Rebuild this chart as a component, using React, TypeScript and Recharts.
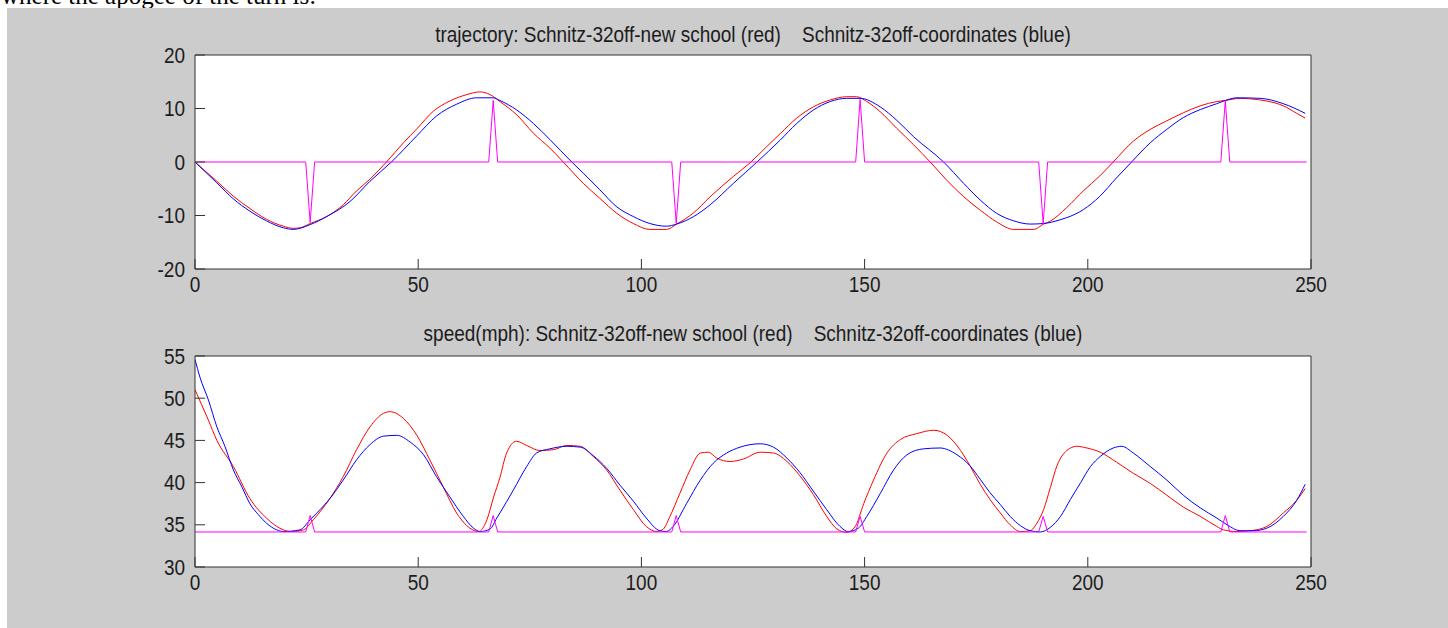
import { LineChart, Line, XAxis, YAxis, CartesianGrid } from 'recharts'

const FONT = '"Liberation Sans", Arial, Helvetica, sans-serif'
const STRETCH = 1.12
const INK = '#1c1c1c'

const xTicks = [0, 50, 100, 150, 200, 250]
const trajTicks = [-20, -10, 0, 10, 20]
const speedTicks = [30, 35, 40, 45, 50, 55]

// trajectory, new school (red)
const trajRedX = [0, 4.9, 8.6, 12.3, 16, 19.8, 22, 23.5, 25.8, 29.5, 33.2, 36.2, 39.2, 42.9, 46.7, 49.7, 53.4, 57.1, 60.9, 63.8, 66.1, 68.3, 72.1, 75.8, 79.5, 82.5, 87, 90.7, 94.5, 98.2, 101.9, 105.6, 107.9, 111.7, 115.4, 120.6, 124.4, 128.1, 131.1, 134.8, 138.5, 142.3, 146, 148.2, 150.5, 153.5, 157.2, 161, 164.7, 168.4, 172.2, 175.9, 179.6, 183.4, 187.9, 190.1, 191.5, 195.3, 199, 202.7, 205.7, 210.2, 214, 217.7, 221.4, 225.2, 228.9, 230.8, 234.1, 236.4, 240.1, 243.8, 246.8, 248.7]
const trajRedY = [0, -3.6, -6.4, -8.7, -10.7, -12, -12.4, -12.3, -11.5, -10.2, -8, -5.4, -3.2, 0, 3.6, 6.2, 9.5, 11.4, 12.6, 13.1, 12.6, 11.3, 8.8, 5.4, 2.6, 0, -4, -6.8, -9.6, -11.5, -12.6, -12.6, -11.6, -9.5, -6.5, -2.7, -0.1, 2.9, 5.3, 8.2, 10.3, 11.6, 12.2, 12.2, 11.3, 9.4, 6.3, 3.2, 0, -3.4, -6.5, -9, -11.2, -12.6, -12.6, -11.6, -11.1, -8.5, -5.4, -2.6, 0, 3.9, 6.1, 7.7, 9.2, 10.5, 11.3, 11.5, 11.9, 11.8, 11.4, 10.5, 9.1, 8.2]

// trajectory, coordinates (blue)
const trajBlueX = [0, 4.9, 8.6, 12.3, 16, 19.8, 22, 25.8, 29.5, 34.7, 39.2, 44, 49.7, 54.1, 58.6, 63.1, 66.8, 68.3, 72.1, 75.8, 79.5, 84.4, 87, 90.7, 94.5, 98.2, 101.9, 105.6, 107.9, 111.7, 115.4, 120.6, 125.9, 131.1, 134.8, 138.5, 142.3, 146, 149, 153.5, 157.2, 161, 167.7, 172.2, 175.9, 179.6, 183.4, 187.1, 190.1, 193.8, 195.3, 199, 202.7, 206.4, 209.8, 214, 217.7, 221.4, 225.2, 228.9, 230.8, 233.4, 238.6, 243.8, 248.7]
const trajBlueY = [0, -3.9, -6.9, -9.2, -11, -12.3, -12.6, -11.7, -10.2, -7.4, -3.6, 0, 4.9, 8.6, 10.8, 12, 12, 11.5, 9.7, 7.2, 4.2, 0, -2.1, -5.2, -8.4, -10.2, -11.5, -12, -11.6, -10.2, -8, -4, 0, 4.1, 7.2, 9.7, 11.3, 11.9, 11.9, 10.3, 7.8, 4.7, 0, -4, -7.1, -9.6, -11, -11.6, -11.5, -10.8, -10.4, -8.9, -6.4, -3, 0, 3.6, 6.1, 8.3, 9.8, 10.9, 11.5, 12, 11.9, 10.9, 9.1]

// apex markers on the trajectory plot (magenta)
const trajMarkX = [0, 24.8, 25.8, 26.8, 65.8, 66.8, 67.8, 106.8, 107.8, 108.8, 148, 149, 150, 189, 190, 191, 229.8, 230.8, 231.8, 249]
const trajMarkY = [0, 0, -11.3, 0, 0, 11.5, 0, 0, -11.5, 0, 0, 11.7, 0, 0, -11.5, 0, 0, 11.5, 0, 0]

// speed, new school (red)
const speedRedX = [0, 3, 4.9, 8.6, 12.3, 16, 19.8, 21.7, 24.3, 26.5, 30.2, 33.2, 36.2, 39.2, 42.2, 43.7, 46.7, 49.7, 52.6, 55.6, 58.6, 61.6, 63.5, 65.4, 66.9, 68.3, 69.8, 72, 74.3, 77.3, 80.3, 83.3, 86.3, 89.2, 92.2, 95.2, 98.2, 101.1, 103.4, 104.9, 106.4, 108.6, 110.9, 113.2, 115, 116.9, 119.9, 122.9, 126.6, 129.6, 132.6, 135.5, 138.5, 141.5, 143.8, 146, 147.9, 149.8, 152, 155, 158, 161.7, 165.5, 168.5, 171.5, 173.6, 175.9, 178.1, 180.4, 182.6, 184.9, 187.1, 188.6, 190.1, 191.6, 193.1, 195.3, 197.5, 199.8, 202.8, 206.5, 210.2, 214, 217.7, 221.4, 225.2, 228.9, 230.4, 233.4, 236.4, 240.1, 243.8, 246.8, 248.7]
const speedRedY = [51, 47.4, 45, 41.9, 38.1, 35.8, 34.4, 34.2, 34.4, 35.6, 38.1, 40.7, 43.9, 46.6, 48.2, 48.4, 47.6, 45.6, 42.7, 39.5, 36.4, 34.6, 34.2, 35.6, 38.3, 40.6, 43.5, 44.9, 44.4, 43.8, 43.9, 44.4, 44.3, 43.1, 41.5, 39.1, 36.8, 34.8, 34.2, 34.5, 36, 38.7, 41.5, 43.5, 43.6, 42.9, 42.5, 42.8, 43.6, 43.5, 42.5, 40.8, 38.6, 36, 34.5, 34.1, 34.8, 37.5, 40.3, 43.5, 45.1, 45.8, 46.2, 45.6, 43.8, 42, 39.8, 38, 36.4, 35, 34.2, 34.3, 35.2, 36.8, 39.4, 42, 43.8, 44.3, 44.1, 43.6, 42.4, 41.1, 39.9, 38.5, 37.1, 36, 34.8, 34.4, 34.2, 34.3, 34.8, 36.4, 37.9, 39.3]

// speed, coordinates (blue)
const speedBlueX = [0, 1.1, 3, 4.9, 6.7, 8.6, 10.5, 12.3, 14.2, 16, 18.3, 19.8, 23.5, 25.8, 27.3, 30.2, 33.2, 36.2, 39.2, 42.2, 45.2, 48.2, 51.2, 54.1, 57.1, 60.1, 62.4, 63.9, 66.1, 67.6, 68.3, 71.3, 74.3, 76.5, 79.5, 83.3, 86.3, 89.2, 92.2, 95.2, 98.2, 101.1, 104.1, 105.6, 107.1, 110.1, 113.2, 116.1, 119.1, 122.1, 126.6, 129.6, 132.6, 135.5, 138.5, 141.5, 144.5, 146.3, 148.6, 150.5, 153.5, 156.5, 159.5, 163.2, 166.9, 170.7, 173.6, 175.9, 178.1, 180.4, 182.6, 184.9, 187.1, 189.4, 191.6, 193.9, 196.1, 198.4, 200.6, 202.8, 205.7, 207.6, 210.2, 214, 217.7, 221.4, 225.2, 228.9, 231.2, 234.1, 237.1, 240.1, 243.8, 246.8, 248.7]
const speedBlueY = [54.6, 52.5, 49.8, 46.6, 44.3, 41.5, 39.5, 37.5, 36.2, 35.2, 34.4, 34.2, 34.4, 35.6, 36.4, 38.1, 40.3, 42.7, 44.5, 45.5, 45.6, 44.8, 43.3, 40.7, 38.3, 36, 34.6, 34.2, 34.5, 35.8, 36.4, 39.1, 41.9, 43.5, 44, 44.3, 44.2, 43.2, 41.7, 39.7, 37.8, 35.8, 34.3, 34.2, 34.8, 37.5, 40.3, 42.3, 43.5, 44.2, 44.6, 44.2, 42.9, 41.2, 39, 36.8, 34.8, 34.2, 34.6, 36, 38.7, 41.5, 43.3, 44, 44.1, 43.3, 42, 40.4, 38.8, 37.4, 36, 34.9, 34.3, 34.15, 34.7, 36, 38, 40, 41.9, 43.1, 44.1, 44.3, 43.5, 41.9, 40.3, 38.5, 37, 35.8, 35, 34.3, 34.3, 34.6, 36, 37.9, 39.8]

// apex markers on the speed plot (magenta)
const speedMarkX = [0, 24.8, 25.8, 26.8, 65.8, 66.8, 67.8, 106.8, 107.8, 108.8, 148, 149, 150, 189, 190, 191, 229.8, 230.8, 231.8, 249]
const speedMarkY = [34.15, 34.15, 36.1, 34.15, 34.15, 36.1, 34.15, 34.15, 36.1, 34.15, 34.15, 36, 34.15, 34.15, 36, 34.15, 34.15, 36.1, 34.15, 34.15]

const zipXY = (xs: number[], ys: number[]) => xs.map((x, i) => ({ x, y: ys[i] }))

function XTick({ x, y, payload }: any) {
  return (
    <text transform={`translate(${x},${y}) scale(1,${STRETCH})`} textAnchor="middle" fontFamily={FONT} fontSize={19} fill={INK}>
      {payload.value}
    </text>
  )
}

function YTick({ x, y, payload }: any) {
  return (
    <text transform={`translate(${x},${y}) scale(1,${STRETCH})`} y={6.8} textAnchor="end" fontFamily={FONT} fontSize={19} fill={INK}>
      {payload.value}
    </text>
  )
}

const NoLabel = () => <g />

interface Series {
  data: { x: number; y: number }[]
  color: string
  curve: 'monotone' | 'linear'
}

interface PanelProps {
  top: number
  height: number
  marginTop: number
  marginBottom: number
  yDomain: [number, number]
  yTicks: number[]
  series: Series[]
}

function Panel({ top, height, marginTop, marginBottom, yDomain, yTicks, series }: PanelProps) {
  return (
    <div style={{ position: 'absolute', left: 0, top }}>
      <LineChart width={1448} height={height} margin={{ top: marginTop, right: 117, bottom: marginBottom, left: 155 }}>
        <CartesianGrid fill="#ffffff" stroke="none" horizontal={false} vertical={false} />
        <XAxis
          dataKey="x"
          type="number"
          domain={[0, 250]}
          ticks={xTicks}
          allowDataOverflow
          height={30}
          stroke="#333"
          tickSize={-10}
          tickMargin={33}
          tick={XTick}
        />
        <XAxis
          xAxisId="top"
          orientation="top"
          dataKey="x"
          type="number"
          domain={[0, 250]}
          ticks={xTicks}
          height={10}
          stroke="#333"
          tickSize={-10}
          tick={NoLabel}
        />
        <YAxis
          type="number"
          domain={yDomain}
          ticks={yTicks}
          allowDataOverflow
          width={40}
          stroke="#333"
          tickSize={-10}
          tickMargin={20}
          tick={YTick}
        />
        <YAxis
          yAxisId="right"
          orientation="right"
          type="number"
          domain={yDomain}
          ticks={yTicks}
          width={20}
          stroke="#333"
          tickSize={-10}
          tick={NoLabel}
        />
        {series.map((s, i) => (
          <Line
            key={i}
            data={s.data}
            dataKey="y"
            type={s.curve}
            stroke={s.color}
            strokeWidth={1}
            dot={false}
            activeDot={false}
            isAnimationActive={false}
          />
        ))}
      </LineChart>
    </div>
  )
}

export default function App() {
  const trajSeries: Series[] = [
    { data: zipXY(trajRedX, trajRedY), color: '#ff0000', curve: 'monotone' },
    { data: zipXY(trajBlueX, trajBlueY), color: '#0000ff', curve: 'monotone' },
    { data: zipXY(trajMarkX, trajMarkY), color: '#ff00ff', curve: 'linear' },
  ]
  const speedSeries: Series[] = [
    { data: zipXY(speedRedX, speedRedY), color: '#ff0000', curve: 'monotone' },
    { data: zipXY(speedBlueX, speedBlueY), color: '#0000ff', curve: 'monotone' },
    { data: zipXY(speedMarkX, speedMarkY), color: '#ff00ff', curve: 'linear' },
  ]
  return (
    <div style={{ position: 'absolute', left: 0, top: 0, width: 1448, height: 628, background: '#ffffff', overflow: 'hidden' }}>
      {/* tail of the paragraph above the figure, clipped by the figure's top edge */}
      <svg width={1448} height={8} style={{ position: 'absolute', left: 0, top: 0 }}>
        <text x={1} y={4} fontFamily='"Liberation Serif", "Times New Roman", serif' fontSize={25} fill="#000">
          where the apogee of the turn is:
        </text>
      </svg>
      <div style={{ position: 'absolute', left: 7, top: 8, width: 1441, height: 620, background: '#cccccc' }} />
      <Panel top={0} height={300} marginTop={45} marginBottom={1} yDomain={[-20, 20]} yTicks={trajTicks} series={trajSeries} />
      <Panel top={300} height={328} marginTop={46} marginBottom={31} yDomain={[30, 55]} yTicks={speedTicks} series={speedSeries} />
      <svg width={1448} height={628} style={{ position: 'absolute', left: 0, top: 0, pointerEvents: 'none' }}>
        <text transform={`translate(753,42) scale(1,${STRETCH})`} textAnchor="middle" fontFamily={FONT} fontSize={19} fill={INK} style={{ whiteSpace: 'pre' }}>
          {'trajectory: Schnitz-32off-new school (red)    Schnitz-32off-coordinates (blue)'}
        </text>
        <text transform={`translate(753,341) scale(1,${STRETCH})`} textAnchor="middle" fontFamily={FONT} fontSize={19} fill={INK} style={{ whiteSpace: 'pre' }}>
          {'speed(mph): Schnitz-32off-new school (red)    Schnitz-32off-coordinates (blue)'}
        </text>
      </svg>
    </div>
  )
}
